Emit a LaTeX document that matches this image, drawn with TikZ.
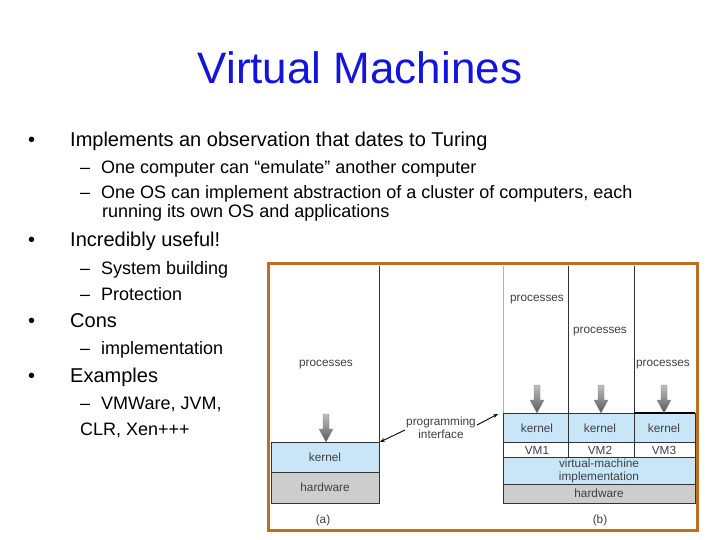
\documentclass[tikz,border=0pt]{standalone}
\usepackage{fontspec}
\setmainfont{Liberation Sans}
\usetikzlibrary{arrows.meta}
\definecolor{ttl}{RGB}{20,20,220}
\definecolor{kblue}{RGB}{200,230,248}
\definecolor{hgray}{RGB}{205,205,205}
\definecolor{frame}{RGB}{192,110,30}
\tikzset{
 lay/.style={draw=black!80,line width=0.6pt},
 ftxt/.style={font=\fontsize{11.8}{12.5}\selectfont,text=black!75,align=center,inner sep=0},
 bl/.style={anchor=base west,font=\fontsize{20}{22}\selectfont,inner sep=0},
 sb/.style={anchor=base west,font=\fontsize{18}{19}\selectfont,inner sep=0,align=left},
}
\newcommand{\blockarrow}[3]{% x, ytop, ybot
 \shade[top color=black!25,bottom color=black!65,draw=black!50,line width=0.3pt]
 (#1-3,-#2) -- (#1+3,-#2) -- (#1+3,-#3+13) -- (#1+7,-#3+13) -- (#1,-#3) -- (#1-7,-#3+13) -- (#1-3,-#3+13) -- cycle;}
\begin{document}
\begin{tikzpicture}[x=1pt,y=1pt]
\useasboundingbox (0,0) rectangle (720,-540);
\fill[white] (0,0) rectangle (720,-540);
\node[text=ttl,font=\fontsize{44}{48}\selectfont,inner sep=0] (title) at (360,-68) {Virtual Machines};
\node[bl] (b1d) at (28,-147) {•};
\node[bl] (b1) at (70,-147) {Implements an observation that dates to Turing};
\node[sb] (s1) at (80,-174) {–\hspace{11pt}One computer can “emulate” another computer};
\node[sb] (s2) at (80,-199) {–\hspace{11pt}One OS can implement abstraction of a cluster of computers, each};
\node[sb] (s2b) at (102,-218) {running its own OS and applications};
\node[bl] (b2d) at (28,-247) {•};
\node[bl] (b2) at (70,-247) {Incredibly useful!};
\node[sb] (s3) at (80,-274) {–\hspace{11pt}System building};
\node[sb] (s4) at (80,-300) {–\hspace{11pt}Protection};
\node[bl] (b3d) at (28,-327) {•};
\node[bl] (b3) at (70,-327) {Cons};
\node[sb] (s5) at (80,-354) {–\hspace{11pt}implementation};
\node[bl] (b4d) at (28,-382) {•};
\node[bl] (b4) at (70,-382) {Examples};
\node[sb] (s6) at (80,-409) {–\hspace{11pt}VMWare, JVM,};
\node[sb] (s6b) at (80,-435) {CLR, Xen+++};
% figure
\fill[white] (268,-263) rectangle (697,-530);
% (a)
\draw[lay,fill=kblue] (271,-442) rectangle (379,-472);
\draw[lay,fill=hgray] (271,-472) rectangle (379,-503);
\draw[lay] (379,-266) -- (379,-442);
\node[ftxt] (pa) at (326,-365) {processes};
\node[ftxt] (ka) at (325,-457) {kernel};
\node[ftxt] (ha) at (325,-487) {hardware};
\blockarrow{326}{414}{442}
\node[ftxt] (la) at (323,-520) {(a)};
% (b)
\draw[lay,fill=kblue] (503,-413) rectangle (695,-442);
\draw[lay,fill=white] (503,-442) rectangle (695,-457);
\draw[lay,fill=kblue] (503,-457) rectangle (695,-484);
\draw[lay,fill=hgray] (503,-484) rectangle (695,-503);
\draw[line width=0.8pt,black!30] (503,-266) -- (503,-413);
\draw[lay] (568,-266) -- (568,-457);
\draw[lay] (634,-266) -- (634,-457);
\draw[line width=1.4pt] (634,-413) -- (695,-413);
\node[ftxt] (p1) at (537,-300) {processes};
\node[ftxt] (p2) at (600,-332) {processes};
\node[ftxt] (p3) at (663,-365) {processes};
\blockarrow{537}{385}{413}
\blockarrow{601}{385}{413}
\blockarrow{664}{385}{413}
\node[ftxt] (k1) at (537,-428) {kernel};
\node[ftxt] (k2) at (600,-428) {kernel};
\node[ftxt] (k3) at (664,-428) {kernel};
\node[ftxt] (v1) at (537,-450) {VM1};
\node[ftxt] (v2) at (600,-450) {VM2};
\node[ftxt] (v3) at (664,-450) {VM3};
\node[ftxt,font=\fontsize{11.8}{13}\selectfont] (vmi) at (599,-471) {virtual-machine\\implementation};
\node[ftxt] (hb) at (599,-493) {hardware};
\node[ftxt] (lb) at (600,-520) {(b)};
\node[ftxt,font=\fontsize{11.8}{13}\selectfont] (pi) at (441,-428) {programming\\interface};
\coordinate (ea) at (380,-442);
\coordinate (eb) at (498,-414);
\draw[-{Stealth[length=5pt]},line width=0.9pt] (405,-430) -- (ea);
\draw[-{Stealth[length=5pt]},line width=0.9pt] (477,-425) -- (eb);
\draw[frame,line width=3pt] (268,-263) rectangle (697,-530);
\end{tikzpicture}
\end{document}
